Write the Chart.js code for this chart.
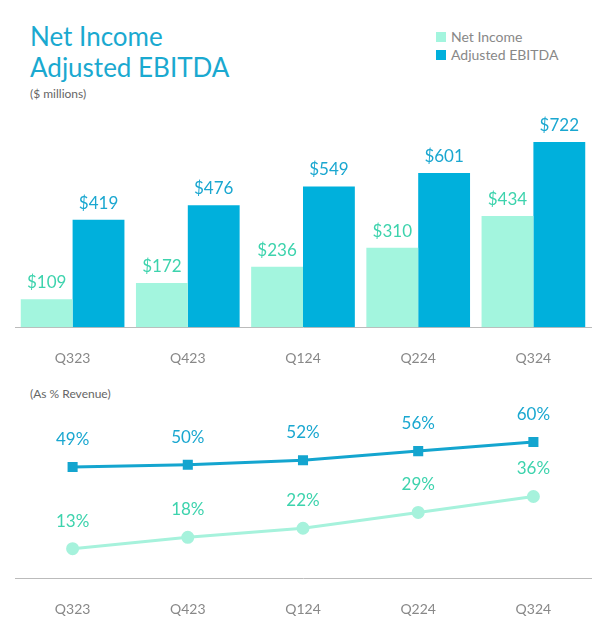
<!DOCTYPE html>
<html><head>
<script src="https://cdn.jsdelivr.net/npm/chart.js@4"></script>
<style>
body{margin:0;background:#fff;font-family:Lato,sans-serif;width:606px;height:637px;position:relative;overflow:hidden}
.t{position:absolute;left:30px;color:#1aa9d0;font-size:26px;line-height:31px;top:21px}
.s{position:absolute;left:30px;top:86px;font-size:12px;color:#666}
.s2{position:absolute;left:30px;top:386px;font-size:12px;color:#666}
.lg{position:absolute;left:436px;top:28px;font-size:14px;color:#888;line-height:18px}
.lg span{display:inline-block;width:10px;height:10px;margin-right:5px}
canvas{position:absolute;left:0}
</style></head><body>
<div class="t">Net Income<br>Adjusted EBITDA</div>
<div class="s">($ millions)</div>
<div class="lg"><div><span style="background:#a3f5de"></span>Net Income</div><div><span style="background:#00b0dc"></span>Adjusted EBITDA</div></div>
<div class="s2">(As % Revenue)</div>
<div style="position:absolute;top:100px;left:0;width:606px;height:282px"><canvas id="bars"></canvas></div>
<div style="position:absolute;top:400px;left:0;width:606px;height:233px"><canvas id="lines"></canvas></div>
<script>
const quarters = ["Q323", "Q423", "Q124", "Q224", "Q324"];
const netIncome = [109, 172, 236, 310, 434];
const ebitda = [419, 476, 549, 601, 722];
const netIncomePct = [13, 18, 22, 29, 36];
const ebitdaPct = [49, 50, 52, 56, 60];

const labelPlugin = {
    id: "labels",
    afterDatasetsDraw(chart) {
        const ctx = chart.ctx;
        const pct = chart.config.type === "line";
        ctx.save();
        ctx.font = "17px Lato";
        ctx.textAlign = "center";
        ctx.textBaseline = "bottom";
        chart.data.datasets.forEach((ds, i) => {
            ctx.fillStyle = ds.labelColor;
            chart.getDatasetMeta(i).data.forEach((el, j) => {
                const txt = pct ? ds.data[j] + "%" : "$" + ds.data[j];
                ctx.fillText(txt, el.x, el.y - (pct ? 19 : 8));
            });
        });
        ctx.restore();
    }
};

const xAxis = {
    grid: { display: false },
    border: { color: "#bbb" },
    ticks: { color: "#888", font: { family: "Lato", size: 14 }, padding: 15 }
};

new Chart("bars", {
    type: "bar",
    data: {
        labels: quarters,
        datasets: [
            { data: netIncome, backgroundColor: "#a3f5de", labelColor: "#3dd3ad" },
            { data: ebitda, backgroundColor: "#00b0dc", labelColor: "#1aa7d0" }
        ]
    },
    options: {
        responsive: true, maintainAspectRatio: false, animation: false,
        layout: { padding: { left: 15, right: 15, top: 10 } },
        plugins: { legend: { display: false }, tooltip: { enabled: false } },
        datasets: { bar: { categoryPercentage: 0.9, barPercentage: 1 } },
        scales: { x: xAxis, y: { display: false, min: 0, max: 847 } }
    },
    plugins: [labelPlugin]
});

new Chart("lines", {
    type: "line",
    data: {
        labels: quarters,
        datasets: [
            { data: ebitdaPct, borderColor: "#14a5cf", backgroundColor: "#14a5cf", pointStyle: "rect", pointRadius: 5, borderWidth: 3, labelColor: "#1aa7d0" },
            { data: netIncomePct, borderColor: "#a6f2dc", backgroundColor: "#a6f2dc", pointStyle: "circle", pointRadius: 5, borderWidth: 3, labelColor: "#3dd3ad" }
        ]
    },
    options: {
        responsive: true, maintainAspectRatio: false, animation: false,
        layout: { padding: { left: 15, right: 15 } },
        plugins: { legend: { display: false }, tooltip: { enabled: false } },
        scales: { x: Object.assign({ offset: true }, xAxis), y: { display: false, min: 0, max: 75 } }
    },
    plugins: [labelPlugin]
});
</script>
</body></html>
